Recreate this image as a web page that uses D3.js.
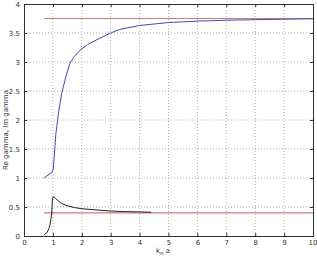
<!DOCTYPE html>
<html>
<head>
<meta charset="utf-8">
<script src="https://cdn.jsdelivr.net/npm/d3@7"></script>
<style>
body { margin: 0; background: #fff; }
text { font-family: "DejaVu Sans", sans-serif; }
</style>
</head>
<body>
<script>
const xTicks = [0, 1, 2, 3, 4, 5, 6, 7, 8, 9, 10];
const yTicks = [0, 0.5, 1, 1.5, 2, 2.5, 3, 3.5, 4];
const reGamma = [[0.69,1.0],[0.97,1.1],[1.01,1.15],[1.05,1.4],[1.1,1.75],[1.15,1.95],[1.2,2.15],[1.31,2.47],[1.45,2.75],[1.59,2.98],[1.75,3.1],[1.93,3.2],[2.2,3.3],[2.5,3.38],[3,3.5],[3.3,3.56],[4,3.63],[5,3.68],[6,3.705],[7,3.72],[8,3.73],[9,3.738],[10,3.745]];
const imGamma = [[0.69,0.02],[0.8,0.06],[0.88,0.15],[0.93,0.28],[0.96,0.4],[0.98,0.6],[1.0,0.67],[1.05,0.67],[1.15,0.62],[1.3,0.56],[1.5,0.52],[1.75,0.49],[2,0.47],[2.5,0.45],[3,0.43],[3.5,0.42],[4,0.415],[4.4,0.41]];
const limits = [3.75, 0.4];
const limitRange = [0.69, 10];

const W = 317, H = 257;
const svg = d3.select("body").append("svg").attr("width", W).attr("height", H);
const x = d3.scaleLinear().domain([0, 10]).range([24, 313]);
const y = d3.scaleLinear().domain([0, 4]).range([236, 4]);

// grid
svg.append("g").selectAll("line").data(xTicks.slice(1, -1)).enter().append("line")
	.attr("x1", d => x(d)).attr("x2", d => x(d)).attr("y1", y(0)).attr("y2", y(4))
	.attr("stroke", "#999").attr("stroke-width", 0.8).attr("stroke-dasharray", "1,2");
svg.append("g").selectAll("line").data(yTicks.slice(1, -1)).enter().append("line")
	.attr("y1", d => y(d)).attr("y2", d => y(d)).attr("x1", x(0)).attr("x2", x(10))
	.attr("stroke", "#999").attr("stroke-width", 0.8).attr("stroke-dasharray", "1,2");

const line = d3.line().x(d => x(d[0])).y(d => y(d[1]));

svg.append("g").selectAll("line").data(limits).enter().append("line")
	.attr("x1", x(limitRange[0])).attr("x2", x(limitRange[1]))
	.attr("y1", d => y(d)).attr("y2", d => y(d))
	.attr("stroke", "#d07a7a").attr("stroke-width", 1.2);

svg.append("path").datum(reGamma).attr("d", line)
	.attr("fill", "none").attr("stroke", "#4848b0").attr("stroke-width", 1);
svg.append("path").datum(imGamma).attr("d", line)
	.attr("fill", "none").attr("stroke", "#222").attr("stroke-width", 1);

// axes
svg.append("g").attr("transform", `translate(0,${y(0)})`)
	.call(d3.axisBottom(x).tickValues(xTicks).tickSize(-3).tickPadding(4).tickFormat(d3.format("d")));
svg.append("g").attr("transform", `translate(${x(0)},0)`)
	.call(d3.axisLeft(y).tickValues(yTicks).tickSize(-3).tickPadding(4).tickFormat(d => d));
svg.append("g").attr("transform", `translate(0,${y(4)})`)
	.call(d3.axisTop(x).tickValues(xTicks).tickSize(-3).tickFormat(""));
svg.append("g").attr("transform", `translate(${x(10)},0)`)
	.call(d3.axisRight(y).tickValues(yTicks).tickSize(-3).tickFormat(""));
svg.selectAll(".domain").attr("stroke", "#333");
svg.selectAll(".tick line").attr("stroke", "#333");
svg.selectAll(".tick text").attr("font-size", 7).attr("fill", "#333").attr("font-family", "DejaVu Sans, sans-serif");
// keep "10" inside the window
svg.selectAll(".tick text").filter(d => d === 10).attr("text-anchor", "end").attr("dx", 4);

// labels
const xl = svg.append("text").attr("x", 163).attr("y", 253).attr("font-size", 7).attr("fill", "#333")
	.attr("text-anchor", "middle");
xl.append("tspan").text("k");
xl.append("tspan").attr("dy", 2).attr("font-size", 5.5).text("n");
xl.append("tspan").attr("dy", -2).text(" a");
svg.append("text").attr("transform", "translate(8,130) rotate(-90)").attr("text-anchor", "middle")
	.attr("font-size", 7).attr("fill", "#333").text("Re gamma, Im gamma");
</script>
</body>
</html>
